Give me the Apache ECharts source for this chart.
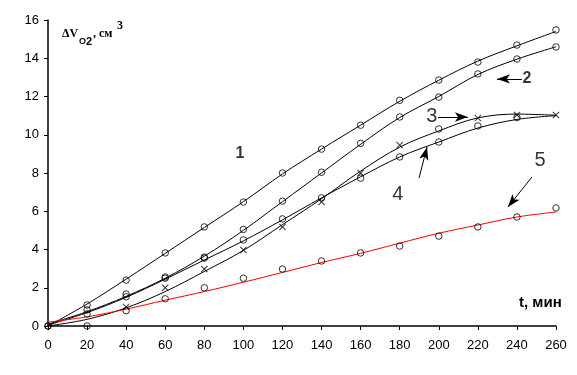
<!DOCTYPE html>
<html>
<head>
<meta charset="utf-8">
<script src="https://cdn.jsdelivr.net/npm/echarts@6/dist/echarts.min.js"></script>
<style>html,body{margin:0;padding:0;background:#fff}#c{width:577px;height:375px}</style>
</head>
<body>
<div id="c"></div>
<script>
// time grid (min)
var tMin = [0, 20, 40, 60, 80, 100, 120, 140, 160, 180, 200, 220, 240, 260];
// smoothed trend lines
var line1 = [0, 1.15, 2.45, 3.8, 5.15, 6.5, 7.95, 9.25, 10.5, 11.75, 12.85, 13.85, 14.65, 15.4];
var line2 = [0.1, 0.75, 1.55, 2.5, 3.65, 5.0, 6.5, 8.0, 9.5, 10.9, 12.0, 13.15, 13.95, 14.6];
var line3 = [0, 0.35, 0.95, 1.8, 2.85, 3.95, 5.3, 6.65, 8.1, 9.35, 10.2, 10.88, 11.08, 11.02];
var line4 = [0.05, 0.7, 1.5, 2.45, 3.45, 4.45, 5.55, 6.7, 7.8, 8.84, 9.62, 10.35, 10.8, 11.0];
var line5 = [0.2, 0.48, 0.88, 1.35, 1.8, 2.29, 2.8, 3.32, 3.8, 4.33, 4.85, 5.28, 5.7, 5.96];
// measured points
var pts1 = [0, 1.1, 2.4, 3.82, 5.18, 6.48, 8.0, 9.25, 10.5, 11.8, 12.86, 13.8, 14.69, 15.48];
var pts2 = [0, 0.84, 1.67, 2.56, 3.6, 5.05, 6.53, 8.04, 9.55, 10.93, 11.97, 13.18, 13.96, 14.59];
var t3 = [40, 60, 80, 100, 120, 140, 160, 180, 220, 240, 260];
var pts3 = [1.0, 2.0, 2.98, 3.97, 5.18, 6.48, 8.0, 9.46, 10.87, 11.03, 11.03];
var t3c = [200];
var pts3c = [10.3];
var t4 = [20, 40, 60, 80, 100, 120, 140, 160, 180, 200, 220, 240];
var pts4 = [0.63, 1.53, 2.5, 3.55, 4.5, 5.6, 6.7, 7.73, 8.84, 9.62, 10.46, 10.9];
var t5 = [20, 40, 60, 80, 100, 120, 140, 160, 180, 200, 220, 240, 260];
var pts5 = [0.0, 0.8, 1.42, 2.0, 2.5, 2.98, 3.4, 3.82, 4.18, 4.7, 5.18, 5.7, 6.17];
// axis ticks
var xTicks = {min: 0, max: 260, step: 20};
var yTicks = {min: 0, max: 16, step: 2};
// curve labels and arrows (data coords)
var lblText = ['1', '2', '3', '4', '5'];
var lblT = [98.3, 245.1, 196.5, 179.1, 251.8];
var lblV = [9.0, 12.92, 10.93, 6.9, 8.68];
var arrowFrom = [[242.6, 12.92], [199.6, 10.93], [189.9, 7.74], [247.7, 7.79]];
var arrowTo = [[229.8, 12.92], [214.9, 10.93], [194.0, 9.36], [235.4, 6.22]];

function pairs(xs, ys) { return xs.map(function (x, i) { return [x, ys[i]]; }); }

var FONT = 'Liberation Sans, Arial, sans-serif';
var SERIF = 'Liberation Serif, Times New Roman, serif';
var xMark = 'path://M0,1 L1,0 L5,4 L9,0 L10,1 L6,5 L10,9 L9,10 L5,6 L1,10 L0,9 L4,5 Z';
var circStyle = {color: 'rgba(0,0,0,0)', borderColor: '#000', borderWidth: 1};

function lineSeries(d, color) {
  return {type: 'line', data: pairs(tMin, d), smooth: 0.35, showSymbol: false, symbol: 'none',
    lineStyle: {color: color, width: 1}, z: 2, silent: true};
}
function circSeries(xs, ys) {
  return {type: 'scatter', data: pairs(xs, ys), symbol: 'circle', symbolSize: 6.5,
    itemStyle: circStyle, z: 3, silent: true};
}

var lblData = lblText.map(function (s, i) {
  var bold = i < 2;
  return {value: [lblT[i], lblV[i]], name: s,
    label: {fontSize: bold ? 16 : 20, fontWeight: bold ? 'bold' : 'normal'}};
});
var arrowData = arrowFrom.map(function (f, i) { return [{coord: f}, {coord: arrowTo[i]}]; });

var series = [
  lineSeries(line1, '#000'), lineSeries(line2, '#000'), lineSeries(line3, '#000'),
  lineSeries(line4, '#000'), lineSeries(line5, '#ff0000'),
  circSeries(tMin, pts1), circSeries(tMin, pts2), circSeries(t4, pts4), circSeries(t5, pts5),
  circSeries(t3c, pts3c),
  {type: 'scatter', data: pairs(t3, pts3), symbol: xMark, symbolSize: 7,
    itemStyle: {color: '#000'}, z: 3, silent: true},
  {type: 'scatter', data: lblData, symbolSize: 0, silent: true, z: 5,
    label: {show: true, position: 'inside', color: '#000', fontFamily: FONT,
      formatter: function (p) { return p.name; }},
    markLine: {silent: true, symbol: ['none', 'arrow'], symbolSize: [7, 13],
      lineStyle: {color: '#000', width: 1, type: 'solid'}, label: {show: false},
      data: arrowData}
  }
];

function txt(s, left, top, size, fam) {
  return {type: 'text', left: left, top: top, silent: true,
    style: {text: s, fontSize: size, fontWeight: 'bold', fontFamily: fam, fill: '#000'}};
}

var chart = echarts.init(document.getElementById('c'), null, {renderer: 'canvas'});
chart.setOption({
  animation: false,
  backgroundColor: '#fff',
  grid: {left: 48, right: 21, top: 20, bottom: 49, containLabel: false},
  xAxis: {type: 'value', min: xTicks.min, max: xTicks.max, interval: xTicks.step,
    axisLine: {lineStyle: {color: '#000', width: 1.5}},
    axisTick: {show: true, inside: false, length: 4, lineStyle: {color: '#000'}},
    axisLabel: {color: '#000', fontSize: 13, fontFamily: FONT, margin: 13},
    splitLine: {show: false}},
  yAxis: {type: 'value', min: yTicks.min, max: yTicks.max, interval: yTicks.step,
    axisLine: {show: true, lineStyle: {color: '#000', width: 1.5}},
    axisTick: {show: true, inside: false, length: 4, lineStyle: {color: '#000'}},
    axisLabel: {color: '#000', fontSize: 13, fontFamily: FONT, margin: 9},
    splitLine: {show: false}},
  graphic: [
    txt('ΔV', 62, 28, 12, SERIF),
    txt('O', 79, 37, 9, FONT),
    txt('2', 86, 36, 11, FONT),
    txt(', см', 93, 28, 12, SERIF),
    txt('3', 117, 20, 12, SERIF),
    {type: 'text', left: 519, top: 295, silent: true,
      style: {text: 't, мин', fontSize: 15, fontWeight: 'bold', fontFamily: FONT, fill: '#000'}}
  ],
  series: series
});
</script>
</body>
</html>
